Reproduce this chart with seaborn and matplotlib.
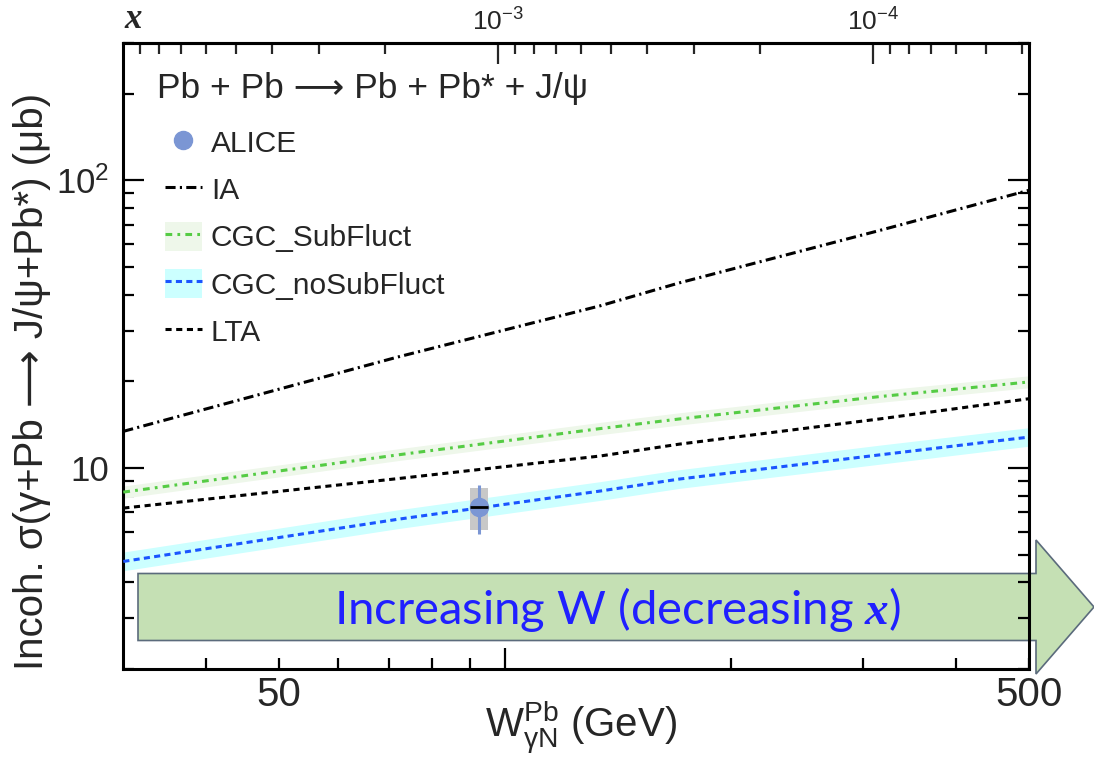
import numpy as np, pandas as pd
import matplotlib as mpl
mpl.use('Agg')
import matplotlib.pyplot as plt
from matplotlib import ticker
from matplotlib.lines import Line2D
from matplotlib.patches import Polygon
import seaborn as sns

sns.set_theme(style='ticks')
plt.rcParams['font.family'] = ['Liberation Sans', 'DejaVu Sans']
plt.rcParams['mathtext.fontset'] = 'custom'
if 'mathtext.bfit' in plt.rcParams:
    plt.rcParams['mathtext.bfit'] = 'Liberation Serif:italic:bold'

# J/psi mass, used for the x = (M/W)^2 top axis
M_JPSI = 3.097

# model curves (W in GeV, sigma in mub)
w_model = [31, 72, 134, 171, 316, 500]
ia = [13.4, 24.3, 36.6, 44.0, 66.9, 92.3]
cgc_sub = [8.24, 11.1, 13.7, 14.8, 17.7, 19.9]
cgc_sub_lo = [7.85, 10.6, 13.05, 14.1, 16.9, 19.0]
cgc_sub_hi = [8.65, 11.65, 14.4, 15.55, 18.6, 20.9]
lta = [7.25, 9.18, 11.0, 12.1, 14.8, 17.4]
cgc_nosub = [4.73, 6.63, 8.31, 9.15, 11.1, 12.8]
cgc_nosub_lo = [4.39, 6.15, 7.71, 8.49, 10.3, 11.9]
cgc_nosub_hi = [5.10, 7.15, 8.96, 9.86, 12.0, 13.8]

# ALICE point
alice_w = [92.4]
alice_w_lo = [89.9]
alice_w_hi = [94.9]
alice_sigma = [7.31]
alice_stat_lo = [5.87]
alice_stat_hi = [8.72]
alice_sys_lo = [6.07]
alice_sys_hi = [8.53]

w_minor = [40, 50, 60, 70, 80, 90, 200, 300, 400, 500]
w_labels = {50: '50', 500: '500'}

df = pd.DataFrame({'W': w_model, 'IA': ia, 'sub': cgc_sub, 'LTA': lta, 'nosub': cgc_nosub})

fig = plt.figure(figsize=(10.94, 7.6), dpi=100)
fig.patch.set_facecolor('white')
ax = fig.add_axes([123/1094, 1-669/760, 906/1094, 626/760])
ax.set_facecolor('none')
ax.set_xscale('log')
ax.set_yscale('log')

# bands
sub_band = ax.fill_between(w_model, cgc_sub_lo, cgc_sub_hi, color='#eef7ea', lw=0, zorder=1)
nosub_band = ax.fill_between(w_model, cgc_nosub_lo, cgc_nosub_hi, color='#ccffff', lw=0, zorder=1)

# curves
sns.lineplot(data=df, x='W', y='IA', ax=ax, color='black', lw=2.2,
             linestyle=(0, (3.3, 1.4, 0.7, 1.4)), zorder=3)
ia_line = ax.lines[-1]
sns.lineplot(data=df, x='W', y='sub', ax=ax, color='#55cc44', lw=2.2,
             linestyle=(0, (2.2, 1.7, 0.9, 1.7)), zorder=3)
sub_line = ax.lines[-1]
sns.lineplot(data=df, x='W', y='nosub', ax=ax, color='#1a55ff', lw=2.2,
             linestyle=(0, (2.0, 1.4)), zorder=3)
nosub_line = ax.lines[-1]
sns.lineplot(data=df, x='W', y='LTA', ax=ax, color='black', lw=2.2,
             linestyle=(0, (2.0, 1.5)), zorder=3)
lta_line = ax.lines[-1]

# ALICE data point
alice_col = '#7b96d4'
ax.fill_between([alice_w_lo[0], alice_w_hi[0]], alice_sys_lo[0], alice_sys_hi[0],
                color='#c8c8c8', lw=0, zorder=4)
ax.vlines(alice_w, alice_stat_lo, alice_stat_hi, color=alice_col, lw=2.2, zorder=5)
ax.plot(alice_w, alice_sigma, 'o', color=alice_col, ms=13, zorder=6)
ax.hlines(alice_sigma, alice_w_lo, alice_w_hi, color='black', lw=2, zorder=7)

ax.set_xlim(M_JPSI / 0.1, 500)
ax.set_ylim(2, 300)

# ticks
ax.xaxis.set_major_locator(ticker.FixedLocator([100]))
ax.xaxis.set_major_formatter(ticker.NullFormatter())
ax.xaxis.set_minor_locator(ticker.FixedLocator(w_minor))
ax.xaxis.set_minor_formatter(ticker.FuncFormatter(lambda v, p: w_labels.get(int(round(v)), '')))
ax.yaxis.set_major_locator(ticker.FixedLocator([10, 100]))
ax.yaxis.set_major_formatter(ticker.FuncFormatter(
    lambda v, p: '10' if v < 50 else r'$\mathdefault{10^{2}}$'))
ax.yaxis.set_minor_locator(ticker.LogLocator(base=10, subs=np.arange(2, 10)))
ax.yaxis.set_minor_formatter(ticker.NullFormatter())
ax.tick_params(which='both', direction='in', top=False, right=True, width=1.6, color='black')
ax.tick_params(which='major', length=15)
ax.tick_params(which='minor', length=8)
ax.tick_params(axis='x', which='both', labelsize=29, pad=5)
ax.tick_params(axis='y', which='both', labelsize=25, pad=10)
for s in ax.spines.values():
    s.set_linewidth(2.2)
    s.set_color('black')

# top axis in x = (M/W)^2
secax = ax.secondary_xaxis('top', functions=(
    lambda w: (M_JPSI / np.clip(w, 1e-9, None))**2,
    lambda x: M_JPSI / np.sqrt(np.clip(x, 1e-12, None))))
secax.xaxis.set_major_locator(ticker.FixedLocator([1e-3, 1e-4]))
secax.xaxis.set_minor_locator(ticker.LogLocator(base=10, subs=np.arange(2, 10)))
secax.xaxis.set_minor_formatter(ticker.NullFormatter())
secax.tick_params(which='both', direction='in', width=1.6, labelsize=19, pad=5)
secax.tick_params(which='major', length=15)
secax.tick_params(which='minor', length=8)
secax.spines['top'].set_linewidth(2.2)
ax.text(0.002, 1.037, 'x', transform=ax.transAxes, family='Liberation Serif',
        style='italic', weight='bold', fontsize=25, ha='left', va='center')

ax.set_xlabel(r'$\mathregular{W_{γN}^{Pb}}$ (GeV)', fontsize=29)
ax.xaxis.set_label_coords(0.505, -0.047)
ax.set_ylabel('Incoh. σ(γ+Pb ⟶ J/ψ+Pb*) (μb)', fontsize=29)
ax.yaxis.set_label_coords(-0.079, 0.46)

# legend
ax.text(0.037, 0.928, 'Pb + Pb ⟶ Pb + Pb* + J/ψ', transform=ax.transAxes,
        fontsize=25.5, ha='left', va='center')
alice_handle = Line2D([], [], marker='o', ls='none', color=alice_col, ms=13)
ax.legend([alice_handle, ia_line, (sub_band, sub_line), (nosub_band, nosub_line), lta_line],
          ['ALICE', 'IA', 'CGC_SubFluct', 'CGC_noSubFluct', 'LTA'],
          loc='upper left', bbox_to_anchor=(0.046, 0.865), frameon=False, fontsize=21.5,
          handlelength=1.25, handleheight=1.1, handletextpad=0.3, labelspacing=0.56,
          borderpad=0, borderaxespad=0)

# big arrow
H = 760.0
W_ = 1094.0
arrow_px = [(138, 573.5), (1036, 573.5), (1036, 540), (1094, 607),
            (1036, 674), (1036, 640.5), (138, 640.5)]
arrow = Polygon([(x / W_, 1 - y / H) for x, y in arrow_px], closed=True,
                transform=fig.transFigure, facecolor='#c5e0b4', edgecolor='#5b6b7c',
                lw=1.2, zorder=-1)
fig.add_artist(arrow)
fig.text(617 / W_, 1 - 609 / H, r'Increasing W (decreasing $\mathbfit{x}$)',
         family=['Lato', 'DejaVu Sans'], fontsize=34, color='#2020ff',
         ha='center', va='center', zorder=5)

fig.savefig('out.png', dpi=100)
